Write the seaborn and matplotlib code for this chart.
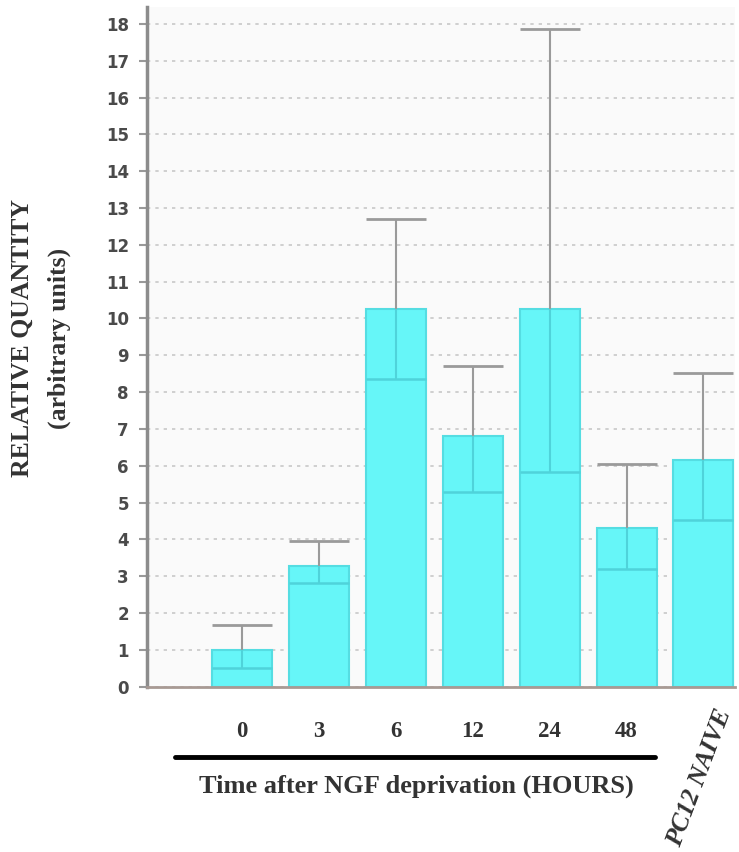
import matplotlib
matplotlib.use("Agg")
import matplotlib.pyplot as plt
from matplotlib.lines import Line2D
import seaborn as sns
import pandas as pd
import numpy as np

# ---- data ----
categories = ["0", "3", "6", "12", "24", "48", "PC12 NAIVE"]
values = [1.0, 3.28, 10.25, 6.8, 10.25, 4.3, 6.17]
upper = [1.68, 3.95, 12.7, 8.72, 17.85, 6.05, 8.52]
lower = [0.52, 2.82, 8.37, 5.3, 5.84, 3.2, 4.54]
yticks = list(range(0, 19))

df = pd.DataFrame({"group": categories, "value": values})

sns.set_theme(style="white")
plt.rcParams["font.family"] = ["DejaVu Sans"]

fig = plt.figure(figsize=(7.39, 8.52), dpi=100)
ax = fig.add_axes([147 / 739, 1 - 686.7 / 852, (735 - 147) / 739, (686.7 - 7) / 852])
ax.set_facecolor("#fafafa")

bar_color = "#66f6f8"
edge_color = "#55dde2"
inner_color = "#4fd3da"
err_color = "#9a9a9a"
bw = 0.78

sns.barplot(data=df, x="group", y="value", order=categories, color=bar_color,
            width=bw, saturation=1, edgecolor=edge_color, linewidth=1.5,
            errorbar=None, ax=ax, zorder=2)

xs = np.arange(len(categories))
# upper error (gray)
ax.vlines(xs, values, upper, color=err_color, lw=1.5, zorder=3)
ax.hlines(upper, xs - bw / 2, xs + bw / 2, color=err_color, lw=2, zorder=3)
# lower error (inside the bar)
ax.vlines(xs, lower, values, color=inner_color, lw=1.5, zorder=3)
ax.hlines(lower, xs - bw / 2, xs + bw / 2, color=inner_color, lw=1.8, zorder=3)

ax.set_xlim(-1.234, 6.41)
ax.set_ylim(0, 18.46)
ax.set_yticks(yticks)
ax.set_yticklabels([str(t) for t in yticks], fontsize=12, fontweight="bold",
                   color="#4a4a4a")
ax.tick_params(axis="y", which="major", length=6, width=1.5, color="#999999",
               pad=7, left=True)
ax.yaxis.grid(True, linestyle=(0, (2, 3)), color="#c8c8c8", lw=1.2, zorder=0)
ax.set_axisbelow(True)

for s in ["top", "right"]:
    ax.spines[s].set_visible(False)
ax.spines["left"].set_color("#8c8c8c")
ax.spines["left"].set_linewidth(2.5)
ax.spines["bottom"].set_color("#a89a94")
ax.spines["bottom"].set_linewidth(2)

# x tick labels
serif = ["Liberation Serif", "DejaVu Serif"]
ax.set_xticks(xs[:6])
ax.set_xticklabels(categories[:6], fontsize=16.5, fontweight="bold",
                   family=serif, color="#333333")
ax.tick_params(axis="x", length=0, pad=25)
ax.set_xlabel("")
ax.set_ylabel("")

fig.text(699 / 739, 1 - 778 / 852, categories[6], rotation=69.5,
         ha="center", va="center", fontsize=18.5, fontweight="bold",
         fontstyle="italic", family=serif, color="#333333")

# black underline and x title
fig.add_artist(Line2D([175 / 739, 655 / 739], [1 - 757 / 852] * 2, lw=3.5,
                      color="black"))
fig.text(416 / 739, 1 - 786 / 852, "Time after NGF deprivation (HOURS)",
         ha="center", va="center", fontsize=19, fontweight="bold",
         family=serif, color="#333333")

# y label
fig.text(22 / 739, 1 - 338 / 852, "RELATIVE QUANTITY", rotation=90,
         ha="center", va="center", fontsize=18.5, fontweight="bold",
         family=serif, color="#333333")
fig.text(59 / 739, 1 - 338 / 852, "(arbitrary units)", rotation=90,
         ha="center", va="center", fontsize=18.5, fontweight="bold",
         family=serif, color="#333333")

fig.savefig("out.png", dpi=100, facecolor="white")
